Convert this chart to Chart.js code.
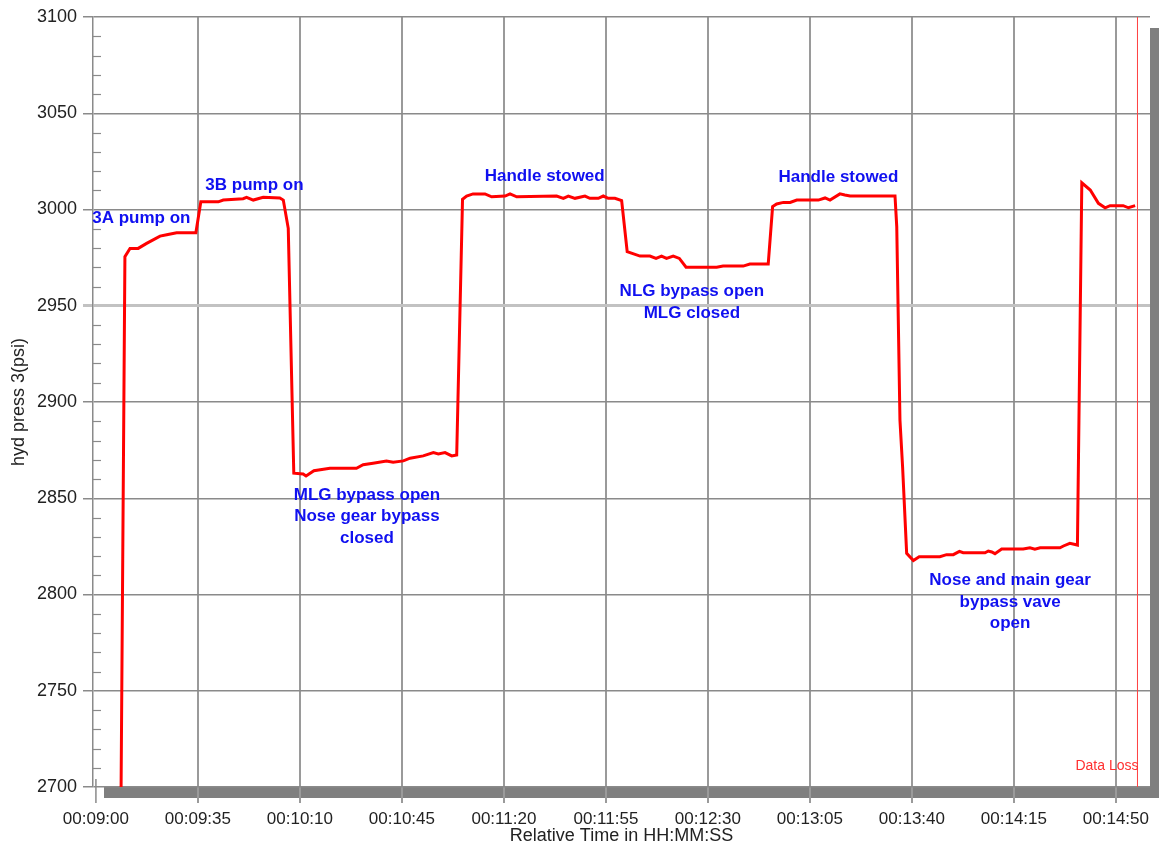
<!DOCTYPE html>
<html>
<head>
<meta charset="utf-8">
<script src="https://cdn.jsdelivr.net/npm/chart.js@4.4.1/dist/chart.umd.min.js"></script>
<style>
  body { margin: 0; background: #fff; }
  #wrap { width: 1159px; height: 848px; position: relative; }
</style>
</head>
<body>
<div id="wrap"><canvas id="chart-1"></canvas></div>
<script>
// relative time in seconds (00:09:00 = 540 s)
const timeSec = [548.4, 549.95, 551.7, 554.5, 557.4, 562.0, 564.3, 567.7, 574.3, 576.0,
  582.0, 583.7, 590.5, 591.7, 594.0, 597.4, 603.1, 604.3, 606.0, 607.9,
  611.1, 612.1, 614.8, 620.3, 629.4, 631.7, 635.1, 639.7, 642.0, 645.5,
  647.8, 652.3, 655.8, 657.5, 659.8, 662.1, 663.8, 665.8, 667.2, 669.4,
  673.5, 675.8, 680.4, 682.1, 684.4, 698.1, 700.4, 702.1, 704.4, 707.8,
  709.5, 712.4, 714.1, 715.8, 718.1, 720.4, 722.3, 726.7, 730.1, 732.2,
  734.1, 735.8, 738.1, 740.2, 742.5, 753.0, 755.2, 762.1, 764.4, 770.7,
  772.2, 773.6, 775.9, 778.2, 780.5, 787.9, 790.2, 791.9, 795.3, 797.0,
  798.8, 814.2, 814.8, 815.9, 816.8, 818.2, 820.5, 822.5, 829.6, 831.9,
  834.2, 836.3, 837.6, 845.1, 846.2, 847.4, 848.5, 850.8, 858.2, 860.5,
  862.2, 864.0, 870.8, 872.0, 874.2, 876.8, 878.3, 881.2, 884.0, 886.3,
  888.0, 892.5, 894.3, 896.6];

const hydPress3 = [2650, 2975.5, 2979.8, 2979.8, 2982.4, 2986.2, 2986.9, 2987.9, 2987.9, 3004.0,
  3004.0, 3004.9, 3005.6, 3006.3, 3004.9, 3006.3, 3006.0, 3004.9, 2990.2, 2863.0,
  2862.6, 2861.6, 2864.3, 2865.6, 2865.6, 2867.4, 2868.2, 2869.4, 2868.7, 2869.4,
  2870.8, 2872.0, 2873.7, 2873.0, 2873.7, 2872.0, 2872.5, 3005.3, 3007.0, 3008.1,
  3008.1, 3006.6, 3007.0, 3008.1, 3006.6, 3007.0, 3005.8, 3007.0, 3005.8, 3007.0,
  3005.8, 3005.8, 3007.0, 3005.8, 3005.8, 3004.6, 2978.1, 2975.8, 2975.8, 2974.6,
  2975.8, 2974.6, 2975.8, 2974.6, 2970.0, 2970.0, 2970.6, 2970.6, 2971.7, 2971.7,
  3001.5, 3002.9, 3003.7, 3003.7, 3004.9, 3004.9, 3006.0, 3004.9, 3008.1, 3007.5,
  3007.0, 3007.0, 2991.1, 2890.6, 2866.4, 2821.4, 2817.6, 2819.6, 2819.6, 2820.7,
  2820.7, 2822.4, 2821.7, 2821.7, 2822.6, 2822.1, 2821.2, 2823.6, 2823.6, 2824.3,
  2823.5, 2824.3, 2824.3, 2825.2, 2826.6, 2825.7, 3013.9, 3010.1, 3003.2, 3000.9,
  3002.0, 3002.0, 3000.9, 3002.0];

const xTicks = [540, 575, 610, 645, 680, 715, 750, 785, 820, 855, 890];
const dataLossAt = 897.4;

// event notes: anchor time, psi of first line, text lines
const noteTimes = [555.6, 594.4, 633.0, 694.0, 744.5, 794.8, 853.7];
const notePsi = [2995.6, 3012.4, 2851.7, 3017.0, 2957.3, 3016.7, 2807.2];
const noteText = [
  ["3A pump on"],
  ["3B pump on"],
  ["MLG bypass open", "Nose gear bypass", "closed"],
  ["Handle stowed"],
  ["NLG bypass open", "MLG closed"],
  ["Handle stowed"],
  ["Nose and main gear", "bypass vave", "open"]
];

const FONT = "'Liberation Sans', Arial, sans-serif";

function hms(s) {
  const h = Math.floor(s / 3600), m = Math.floor((s % 3600) / 60), sec = Math.round(s % 60);
  const p = n => String(n).padStart(2, "0");
  return p(h) + ":" + p(m) + ":" + p(sec);
}

const frame = {
  id: "frame",
  beforeDraw(chart) {
    const a = chart.chartArea, ctx = chart.ctx;
    ctx.save();
    ctx.fillStyle = "#7f7f7f";
    ctx.fillRect(a.left + 11, a.top + 11, a.right - a.left, a.bottom - a.top);
    ctx.fillStyle = "#fff";
    ctx.fillRect(a.left, a.top, a.right - a.left, a.bottom - a.top);
    ctx.restore();
  },
  beforeDatasetsDraw(chart) {
    const a = chart.chartArea, ctx = chart.ctx, y = chart.scales.y, x = chart.scales.x;
    ctx.save();
    // minor ticks on the value axis
    ctx.strokeStyle = "#8a8a8a";
    ctx.lineWidth = 1.2;
    for (let v = 2710; v < 3100; v += 10) {
      if (v % 50 === 0) continue;
      const py = Math.round(y.getPixelForValue(v)) + 0.5;
      ctx.beginPath();
      ctx.moveTo(a.left, py);
      ctx.lineTo(a.left + 8, py);
      ctx.stroke();
    }
    // first time tick sits just below the axis corner
    const p0 = x.getPixelForValue(xTicks[0]);
    ctx.lineWidth = 1.5;
    ctx.beginPath();
    ctx.moveTo(p0, a.bottom - 8);
    ctx.lineTo(p0, a.bottom + 16);
    ctx.stroke();
    // data loss marker
    const px = x.getPixelForValue(dataLossAt);
    ctx.strokeStyle = "#ff4040";
    ctx.lineWidth = 1;
    ctx.beginPath();
    ctx.moveTo(px, a.top);
    ctx.lineTo(px, a.bottom);
    ctx.stroke();
    ctx.fillStyle = "#ff3030";
    ctx.font = "14px " + FONT;
    ctx.textAlign = "right";
    ctx.textBaseline = "middle";
    ctx.fillText("Data Loss", px + 1, a.bottom - 21);
    ctx.restore();
  },
  afterDatasetsDraw(chart) {
    const ctx = chart.ctx, x = chart.scales.x, y = chart.scales.y;
    ctx.save();
    ctx.fillStyle = "#1010f0";
    ctx.font = "bold 17px " + FONT;
    ctx.textAlign = "center";
    ctx.textBaseline = "middle";
    noteText.forEach((lines, i) => {
      const px = x.getPixelForValue(noteTimes[i]);
      const py = y.getPixelForValue(notePsi[i]);
      lines.forEach((t, j) => ctx.fillText(t, px, py + j * 21.5));
    });
    ctx.restore();
  }
};

new Chart("chart-1", {
  type: "line",
  data: {
    datasets: [{
      data: timeSec.map((t, i) => ({ x: t, y: hydPress3[i] })),
      borderColor: "#ff0000",
      borderWidth: 3,
      pointRadius: 0,
      tension: 0,
      clip: 0
    }]
  },
  options: {
    responsive: true,
    maintainAspectRatio: false,
    animation: false,
    layout: { padding: { top: 17, right: 9, left: 0, bottom: 0 } },
    plugins: { legend: { display: false }, tooltip: { enabled: false } },
    scales: {
      x: {
        type: "linear",
        min: 539,
        max: 901.7,
        afterBuildTicks: s => { s.ticks = xTicks.map(v => ({ value: v })); },
        afterFit: s => { s.height = 61; },
        grid: {
          color: c => (c.tick && c.tick.value === xTicks[0]) ? "rgba(0,0,0,0)" : "#9a9a9a",
          lineWidth: 2,
          tickLength: 16
        },
        border: { display: false },
        ticks: {
          color: "#222",
          font: { family: FONT, size: 17 },
          padding: 6,
          maxRotation: 0,
          autoSkip: false,
          callback: v => hms(v)
        },
        title: {
          display: true,
          text: "Relative Time in HH:MM:SS",
          color: "#222",
          font: { family: FONT, size: 18 },
          padding: { top: 0, bottom: 1 }
        }
      },
      y: {
        min: 2700,
        max: 3100,
        afterFit: s => { s.width = 93; },
        grid: {
          color: c => (c.tick && c.tick.value === 2950) ? "#c2c2c2" : "#8a8a8a",
          lineWidth: c => (c.tick && c.tick.value === 2950) ? 3 : 1.5,
          tickLength: 10
        },
        border: { display: true, color: "#8a8a8a", width: 1.5 },
        ticks: {
          stepSize: 50,
          color: "#222",
          font: { family: FONT, size: 18 },
          padding: 6,
          callback: v => String(v)
        },
        title: {
          display: true,
          text: "hyd press 3(psi)",
          color: "#222",
          font: { family: FONT, size: 18 },
          padding: { top: 8, bottom: 0 }
        }
      }
    }
  },
  plugins: [frame]
});
</script>
</body>
</html>
